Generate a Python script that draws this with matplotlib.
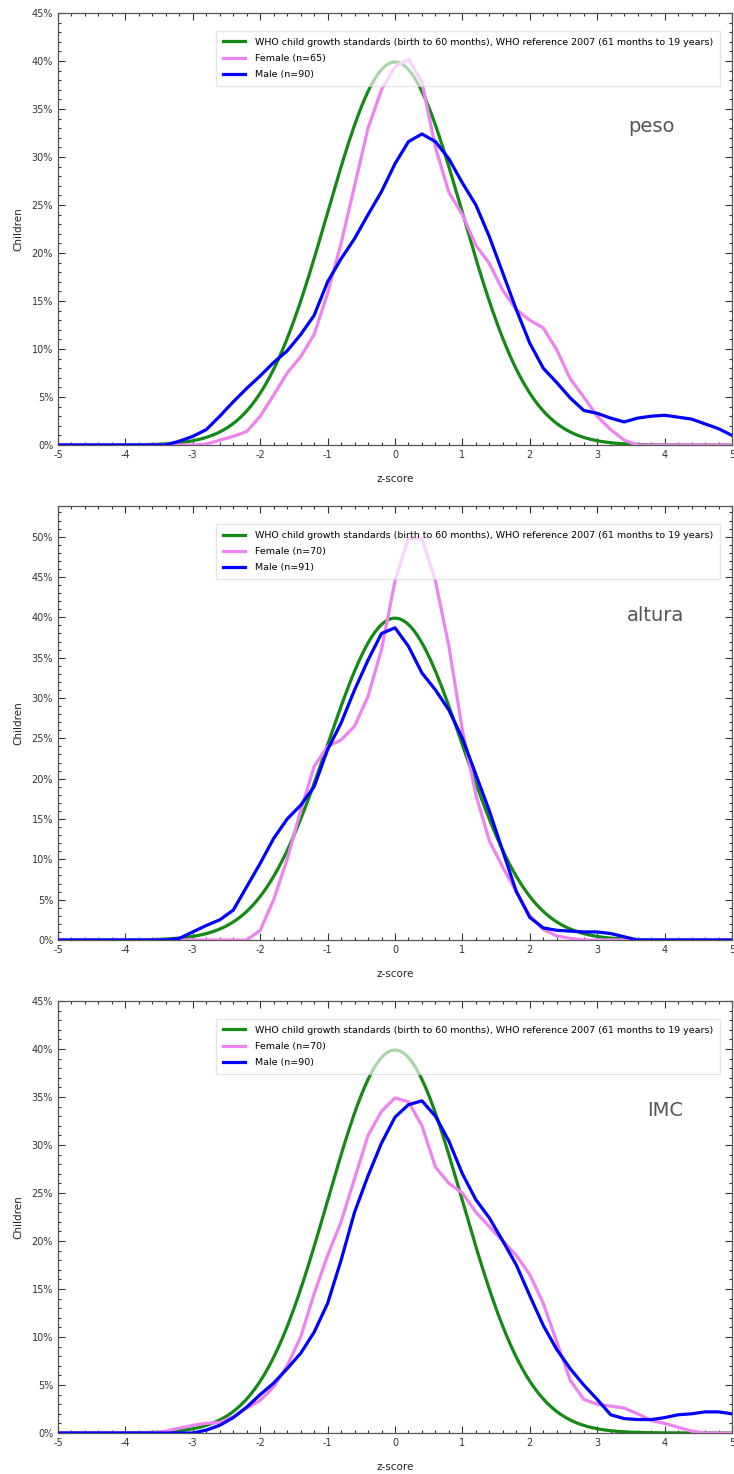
import numpy as np
import matplotlib
matplotlib.use("Agg")
import matplotlib.pyplot as plt
from matplotlib.ticker import MultipleLocator, FuncFormatter

plt.rcParams["axes.unicode_minus"] = False

z = np.round(np.arange(-5, 5.001, 0.2), 1)  # 51 points

# --- peso ---
peso_female = ([0.0] * 11 +
               [0.1, 0.5, 0.9, 1.4, 3.0, 5.2, 7.5, 9.2, 11.5, 15.8,
                21.0, 27.0, 33.0, 37.0, 39.4, 40.2, 37.8, 31.0, 26.3, 24.0,
                20.8, 18.9, 16.1, 14.1, 13.0, 12.2, 9.9, 6.9, 5.0, 3.0,
                1.6, 0.5] +
               [0.0] * 8)
peso_male = ([0.0] * 9 +
             [0.4, 0.9, 1.6, 3.0, 4.5, 5.9, 7.2, 8.6, 9.8, 11.5,
              13.5, 17.0, 19.4, 21.5, 24.0, 26.4, 29.3, 31.6, 32.4, 31.6,
              29.8, 27.3, 25.0, 21.7, 17.9, 14.1, 10.6, 8.0, 6.5, 4.9,
              3.6, 3.3, 2.8, 2.4, 2.8, 3.0, 3.1, 2.9, 2.7, 2.2,
              1.7, 1.0])
# --- altura ---
altura_female = ([0.0] * 14 +
                 [0.0, 1.2, 5.0, 10.0, 16.0, 21.5, 24.0, 24.8, 26.5, 30.2,
                  36.0, 44.5, 49.8, 49.8, 44.5, 36.4, 26.0, 18.0, 12.3, 9.0,
                  6.0, 3.0, 1.3, 0.5, 0.2] +
                 [0.0] * 12)
altura_male = ([0.0] * 9 +
               [0.2, 1.0, 1.8, 2.5, 3.7, 6.6, 9.5, 12.6, 15.0, 16.7,
                19.0, 23.6, 26.9, 31.0, 34.7, 38.0, 38.7, 36.4, 33.1, 31.0,
                28.5, 25.0, 20.5, 16.0, 11.0, 6.0, 2.8, 1.5, 1.2, 1.1,
                1.0, 1.0, 0.8, 0.4] +
               [0.0] * 8)
# --- IMC ---
imc_female = ([0.0] * 8 +
              [0.2, 0.5, 0.8, 1.0, 1.1, 1.7, 2.6, 3.4, 4.8, 7.0,
               10.0, 14.5, 18.5, 22.0, 26.5, 31.0, 33.5, 34.9, 34.5, 32.0,
               27.7, 26.0, 25.0, 23.0, 21.5, 20.0, 18.5, 16.5, 13.5, 9.5,
               5.5, 3.5, 3.0, 2.8, 2.6, 2.0, 1.3, 1.0, 0.6, 0.2] +
              [0.0] * 3)
imc_male = ([0.0] * 10 +
            [0.0, 0.3, 0.8, 1.6, 2.7, 4.0, 5.2, 6.7, 8.3, 10.5,
             13.5, 18.0, 23.0, 26.8, 30.2, 32.9, 34.2, 34.6, 33.0, 30.4,
             27.0, 24.3, 22.4, 20.0, 17.5, 14.3, 11.2, 8.7, 6.7, 5.0,
             3.5, 1.9, 1.5, 1.4, 1.4, 1.6, 1.9, 2.0, 2.2, 2.2,
             2.0])

who_label = "WHO child growth standards (birth to 60 months), WHO reference 2007 (61 months to 19 years)"
titles = ["peso", "altura", "IMC"]
female_n = ["Female (n=65)", "Female (n=70)", "Female (n=70)"]
male_n = ["Male (n=90)", "Male (n=91)", "Male (n=90)"]
females = [peso_female, altura_female, imc_female]
males = [peso_male, altura_male, imc_male]
ymax = [45, 53.8, 45]

fig = plt.figure(figsize=(7.34, 14.74), dpi=100)
W, H = 734, 1474
boxes = [(13, 445), (506, 940), (1001, 1433)]
label_pos = [(652, 127), (655, 615), (665, 1110)]

zz = np.linspace(-5, 5, 401)
who = 100 * np.exp(-zz**2 / 2) / np.sqrt(2 * np.pi)

for i in range(3):
    top, bot = boxes[i]
    ax = fig.add_axes([58 / W, 1 - bot / H, (732 - 58) / W, (bot - top) / H])
    ax.plot(zz, who, color="#138a13", lw=2.3, label=who_label, zorder=3)
    ax.plot(z, females[i], color="#ee82ee", lw=2.3, label=female_n[i], zorder=3)
    ax.plot(z, males[i], color="#0000ff", lw=2.3, label=male_n[i], zorder=3)
    ax.set_xlim(-5, 5)
    ax.set_ylim(0, ymax[i])
    ax.xaxis.set_major_locator(MultipleLocator(1))
    ax.xaxis.set_minor_locator(MultipleLocator(0.2))
    ax.yaxis.set_major_locator(MultipleLocator(5))
    ax.yaxis.set_minor_locator(MultipleLocator(1))
    ax.yaxis.set_major_formatter(FuncFormatter(lambda v, p: f"{v:.0f}%"))
    ax.tick_params(which="both", direction="in", top=True, right=True,
                   labelsize=7, colors="#333333", width=0.8)
    ax.tick_params(which="major", length=5)
    ax.tick_params(which="minor", length=2.5)
    for s in ax.spines.values():
        s.set_color("#555555")
        s.set_linewidth(0.9)
    ax.set_xlabel("z-score", fontsize=7.5, color="#222222", labelpad=10)
    ax.set_ylabel("Children", fontsize=7.5, color="#222222", labelpad=6)
    leg = ax.legend(loc="upper left", bbox_to_anchor=((211 - 58) / 674, 1 - 13 / (bot - top)),
                    fontsize=6.8, frameon=True, framealpha=0.65, fancybox=False,
                    edgecolor="#d8d8d8", handlelength=2.4, borderpad=0.75,
                    labelspacing=0.75, handletextpad=1.0)
    leg.set_zorder(5)
    lx, ly = label_pos[i]
    fig.text(lx / W, 1 - ly / H, titles[i], fontsize=14, color="#555555",
             ha="center", va="center")

fig.savefig("out.png", dpi=100)
